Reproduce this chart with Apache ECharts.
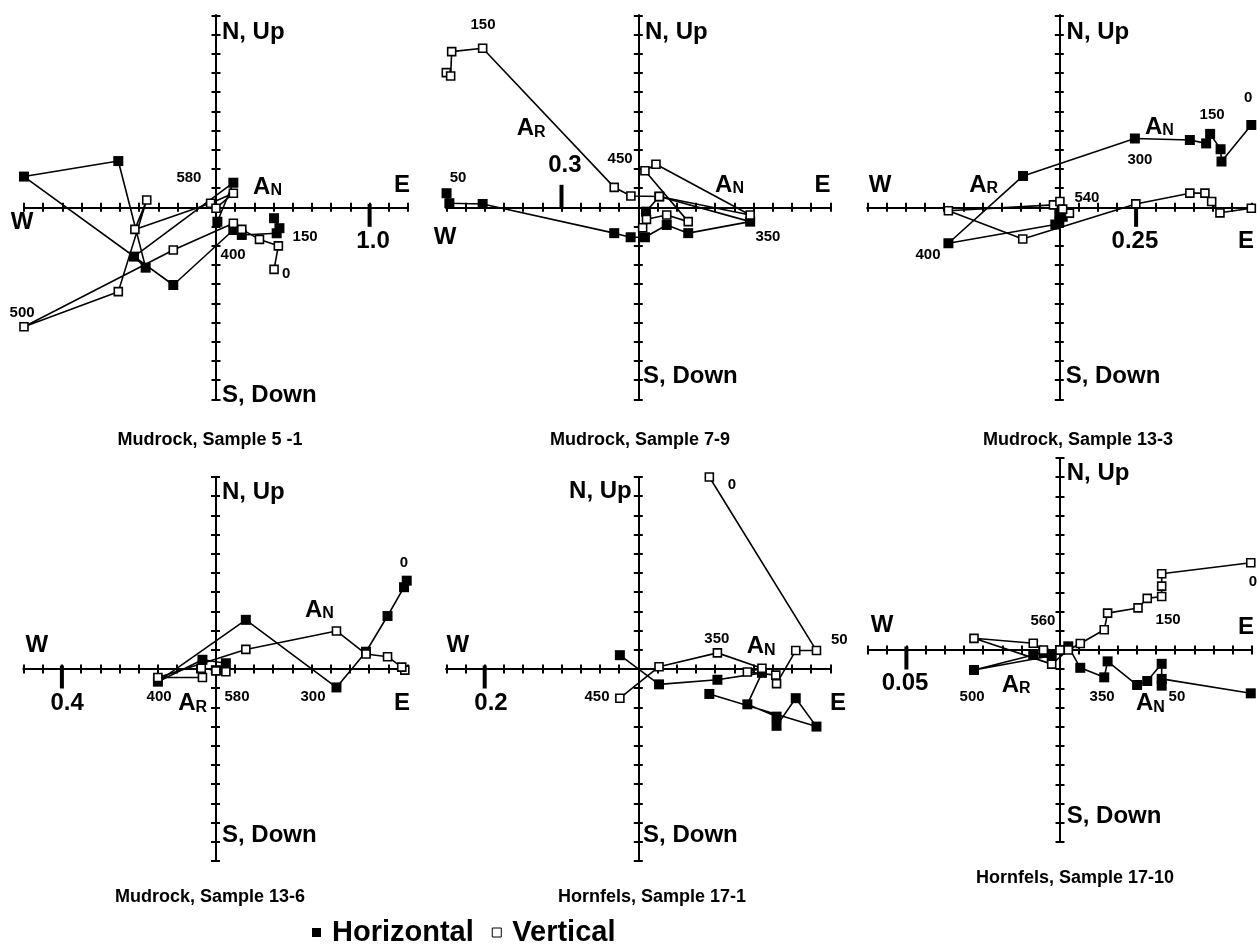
<!DOCTYPE html>
<html>
<head>
<meta charset="utf-8">
<script src="https://cdn.jsdelivr.net/npm/echarts@6/dist/echarts.min.js"></script>
<style>
  html, body { margin: 0; padding: 0; background: #fff; }
  #chart { width: 1257px; height: 947px; }
</style>
</head>
<body>
<div id="chart"></div>
<script>
// Orthogonal demagnetization (Zijderveld) plots.
// Each point is [East, North] for the horizontal projection and [East, Up] for the vertical one.

// Mudrock, sample 5-1
const m51Horizontal = [[0.378,-0.071],[0.413,-0.136],[0.395,-0.169],[0.168,-0.180],[0.113,-0.148],[-0.278,-0.506],[-1.25,0.200],[-0.636,0.301],[-0.458,-0.393],[-0.534,-0.321],[0.113,0.160],[0.009,-0.094]];
const m51Vertical = [[0.378,-0.404],[0.406,-0.251],[0.283,-0.209],[0.168,-0.144],[0.113,-0.104],[-0.278,-0.278],[-1.25,-0.778],[-0.636,-0.549],[-0.451,0.048],[-0.528,-0.144],[-0.035,0.026],[0.113,0.091],[0.0,-0.006]];

// Mudrock, sample 7-9
const m79Horizontal = [[-0.749,0.055],[-0.738,0.016],[-0.608,0.013],[-0.094,-0.101],[-0.030,-0.117],[0.026,-0.117],[0.111,-0.069],[0.195,-0.101],[0.437,-0.056],[0.082,0.042],[0.030,-0.017]];
const m79Vertical = [[-0.75,0.526],[-0.733,0.513],[-0.729,0.608],[-0.608,0.621],[-0.094,0.078],[-0.029,0.044],[0.082,0.042],[0.437,-0.030],[0.069,0.168],[0.026,0.143],[0.195,-0.056],[0.111,-0.030],[0.032,-0.047],[0.017,-0.080]];

// Mudrock, sample 13-3
const m133Horizontal = [[0.625,0.268],[0.528,0.149],[0.525,0.189],[0.491,0.239],[0.478,0.208],[0.425,0.219],[0.246,0.224],[-0.118,0.102],[-0.361,-0.117],[-0.013,-0.056],[0.0,-0.047],[0.011,-0.031],[0.0,-0.019]];
const m133Vertical = [[0.625,-0.003],[0.523,-0.018],[0.496,0.019],[0.474,0.046],[0.425,0.046],[0.249,0.011],[-0.119,-0.103],[-0.361,-0.011],[-0.019,0.008],[0.002,0.019],[0.033,-0.019],[0.011,-0.006]];

// Mudrock, sample 13-6
const m136Horizontal = [[0.498,0.230],[0.491,0.213],[0.448,0.138],[0.392,0.045],[0.315,-0.048],[0.079,0.128],[-0.150,-0.033],[-0.034,0.024],[0.027,0.015],[0.001,-0.003]];
const m136Vertical = [[0.493,-0.003],[0.485,0.005],[0.448,0.032],[0.392,0.039],[0.315,0.099],[0.079,0.051],[-0.150,-0.022],[-0.034,-0.022],[-0.037,0.002],[0.027,-0.007],[0.001,-0.005]];

// Hornfels, sample 17-1
const h171Horizontal = [[0.0925,-0.0325],[0.232,-0.075],[0.205,-0.038],[0.180,-0.074],[0.180,-0.062],[0.142,-0.046],[0.161,-0.005],[0.103,-0.014],[0.027,-0.020],[-0.024,0.018]];
const h171Vertical = [[0.0925,0.25],[0.232,0.024],[0.205,0.024],[0.180,-0.019],[0.179,-0.008],[0.142,-0.004],[0.161,0.001],[0.103,0.021],[0.027,0.003],[-0.024,-0.038]];

// Hornfels, sample 17-10
const h1710Horizontal = [[0.0621,-0.0141],[0.0331,-0.0094],[0.0331,-0.0116],[0.0331,-0.0045],[0.0284,-0.0101],[0.0251,-0.0114],[0.0155,-0.0037],[0.0144,-0.0089],[0.0066,-0.0058],[0.0027,0.0012],[-0.0027,-0.0019],[-0.0280,-0.0065],[-0.0087,-0.0016],[-0.0054,-0.0009],[0,0]];
const h1710Vertical = [[0.0621,0.0284],[0.0331,0.0248],[0.0331,0.0208],[0.0331,0.0174],[0.0284,0.0168],[0.0254,0.0137],[0.0155,0.0120],[0.0144,0.0066],[0.0066,0.0021],[0.0027,0.0],[-0.0027,-0.0046],[-0.0280,0.0038],[-0.0087,0.0022],[-0.0054,0.0],[0,0]];

// Axis tick step of each plot and the value marked by its scale bar
const tickSteps = [0.125, 0.075, 0.0625, 0.05, 0.025, 0.00625];
const scaleBarValues = [1.0, -0.3, 0.25, -0.4, -0.2, -0.05];
const scaleBarLabels = ['1.0', '0.3', '0.25', '0.4', '0.2', '0.05'];
const sampleTitles = ['Mudrock, Sample 5 -1', 'Mudrock, Sample 7-9', 'Mudrock, Sample 13-3',
                      'Mudrock, Sample 13-6', 'Hornfels, Sample 17-1', 'Hornfels, Sample 17-10'];
const legendNames = ['Horizontal', 'Vertical'];

const FONT = '"Liberation Sans", Arial, Helvetica, sans-serif';
const TICK_PX = 19.2;      // pixel length of one axis step
const HALF_TICKS = 10;     // steps on each side of the origin

// Layout of each plot: origin in pixels, title anchor, bar offset and annotations.
// Annotation positions are given in axis steps from the origin.
const layout = [
  { ox: 216, oy: 207.3, barShift: 8, titleX: 210, titleY: 440,
    notes: [
      ['N, Up', 0.31, 9.13, 'left', 'axis'], ['S, Down', 0.31, -9.78, 'left', 'axis'],
      ['W', -10.1, -0.77, 'center', 'axis'], ['E', 9.69, 1.16, 'center', 'axis'],
      ['1.0', 8.18, -1.8, 'center', 'scale'],
      ['580', -1.41, 1.53, 'center', 'temp'], ['N', 1.93, 1.06, 'left', 'comp'],
      ['150', 4.64, -1.55, 'center', 'temp'], ['400', 0.89, -2.48, 'center', 'temp'],
      ['0', 3.65, -3.47, 'center', 'temp'], ['500', -10.1, -5.5, 'center', 'temp']
    ] },
  { ox: 638.3, oy: 207.3, barShift: -11, titleX: 640, titleY: 440,
    notes: [
      ['N, Up', 0.35, 9.13, 'left', 'axis'], ['S, Down', 0.25, -8.82, 'left', 'axis'],
      ['W', -10.07, -1.55, 'center', 'axis'], ['E', 9.6, 1.16, 'center', 'axis'],
      ['0.3', -3.82, 2.2, 'center', 'scale'],
      ['150', -8.09, 9.5, 'center', 'temp'], ['R', -6.33, 4.11, 'left', 'comp'],
      ['450', -0.95, 2.52, 'center', 'temp'], ['N', 4.0, 1.16, 'left', 'comp'],
      ['50', -9.39, 1.53, 'center', 'temp'], ['350', 6.75, -1.55, 'center', 'temp']
    ] },
  { ox: 1059.3, oy: 207.3, barShift: 8, titleX: 1078, titleY: 440,
    notes: [
      ['N, Up', 0.38, 9.13, 'left', 'axis'], ['S, Down', 0.33, -8.82, 'left', 'axis'],
      ['W', -9.34, 1.16, 'center', 'axis'], ['E', 9.72, -1.8, 'center', 'axis'],
      ['0.25', 3.94, -1.8, 'center', 'scale'],
      ['R', -4.69, 1.16, 'left', 'comp'], ['540', 1.44, 0.48, 'center', 'temp'],
      ['400', -6.84, -2.48, 'center', 'temp'], ['300', 4.2, 2.46, 'center', 'temp'],
      ['N', 4.46, 4.18, 'left', 'comp'], ['150', 7.96, 4.83, 'center', 'temp'],
      ['0', 9.84, 5.69, 'center', 'temp']
    ] },
  { ox: 215.5, oy: 669, barShift: 8, titleX: 210, titleY: 897,
    notes: [
      ['N, Up', 0.34, 9.18, 'left', 'axis'], ['S, Down', 0.34, -8.65, 'left', 'axis'],
      ['W', -9.3, 1.25, 'center', 'axis'], ['E', 9.71, -1.77, 'center', 'axis'],
      ['0.4', -7.73, -1.77, 'center', 'scale'],
      ['400', -2.94, -1.46, 'center', 'temp'], ['R', -1.94, -1.79, 'left', 'comp'],
      ['580', 1.12, -1.46, 'center', 'temp'], ['300', 5.08, -1.46, 'center', 'temp'],
      ['N', 4.66, 3.07, 'left', 'comp'], ['0', 9.82, 5.52, 'center', 'temp']
    ] },
  { ox: 638.3, oy: 669, barShift: 8, titleX: 652, titleY: 897,
    notes: [
      ['N, Up', -0.34, 9.23, 'right', 'axis'], ['S, Down', 0.25, -8.65, 'left', 'axis'],
      ['W', -9.4, 1.25, 'center', 'axis'], ['E', 10.4, -1.77, 'center', 'axis'],
      ['0.2', -7.67, -1.77, 'center', 'scale'],
      ['0', 4.88, 9.58, 'center', 'temp'], ['350', 4.09, 1.56, 'center', 'temp'],
      ['N', 5.65, 1.16, 'left', 'comp'], ['50', 10.03, 1.51, 'left', 'temp'],
      ['450', -2.15, -1.46, 'center', 'temp']
    ] },
  { ox: 1060, oy: 650, barShift: 8, titleX: 1075, titleY: 878,
    notes: [
      ['N, Up', 0.35, 9.2, 'left', 'axis'], ['S, Down', 0.35, -8.65, 'left', 'axis'],
      ['W', -9.27, 1.3, 'center', 'axis'], ['E', 9.69, 1.2, 'center', 'axis'],
      ['0.05', -8.07, -1.72, 'center', 'scale'],
      ['560', -0.89, 1.51, 'center', 'temp'], ['150', 5.63, 1.56, 'center', 'temp'],
      ['500', -4.58, -2.45, 'center', 'temp'], ['R', -3.04, -1.82, 'left', 'comp'],
      ['350', 2.19, -2.45, 'center', 'temp'], ['N', 3.96, -2.78, 'left', 'comp'],
      ['50', 6.09, -2.45, 'center', 'temp'], ['0', 10.05, 3.54, 'center', 'temp']
    ] }
];

const horizontalSets = [m51Horizontal, m79Horizontal, m133Horizontal, m136Horizontal, h171Horizontal, h1710Horizontal];
const verticalSets = [m51Vertical, m79Vertical, m133Vertical, m136Vertical, h171Vertical, h1710Vertical];

const noteStyles = {
  axis:  { fontSize: 24 },
  scale: { fontSize: 24 },
  temp:  { fontSize: 15 }
};

function axisPair(kind, gridIndex, step) {
  const base = {
    gridIndex, type: 'value',
    min: -HALF_TICKS * step, max: HALF_TICKS * step, interval: step,
    axisLine: { show: true, onZero: true, lineStyle: { color: '#000', width: 2 } },
    axisTick: { show: true, inside: false, length: 4.5, lineStyle: { color: '#000', width: 2 } },
    axisLabel: { show: false }, splitLine: { show: false }, splitArea: { show: false }
  };
  return kind === 'x'
    ? [Object.assign({ position: 'bottom' }, base), Object.assign({ position: 'top' }, base)]
    : [Object.assign({ position: 'left' }, base), Object.assign({ position: 'right' }, base)];
}

const grids = [], xAxes = [], yAxes = [], series = [], graphics = [];

layout.forEach((p, i) => {
  const step = tickSteps[i];
  grids.push({
    left: p.ox - HALF_TICKS * TICK_PX, top: p.oy - HALF_TICKS * TICK_PX,
    width: 2 * HALF_TICKS * TICK_PX, height: 2 * HALF_TICKS * TICK_PX,
    containLabel: false, outerBoundsMode: 'none'
  });
  xAxes.push(...axisPair('x', i, step));
  yAxes.push(...axisPair('y', i, step));
  const xi = 2 * i, yi = 2 * i;

  // scale bar on the East-West axis
  series.push({
    type: 'scatter', xAxisIndex: xi, yAxisIndex: yi, silent: true, clip: false, z: 3,
    symbol: 'rect', symbolSize: [4, 23], symbolOffset: [0, p.barShift],
    itemStyle: { color: '#000', opacity: 1 },
    data: [[scaleBarValues[i], 0]]
  });

  series.push({
    name: legendNames[0], type: 'line', xAxisIndex: xi, yAxisIndex: yi, clip: false, z: 4,
    symbol: 'rect', symbolSize: 10, showAllSymbol: true,
    lineStyle: { color: '#000', width: 1.6 },
    itemStyle: { color: '#000', borderColor: '#000', borderWidth: 0 },
    data: horizontalSets[i]
  });
  series.push({
    name: legendNames[1], type: 'line', xAxisIndex: xi, yAxisIndex: yi, clip: false, z: 5,
    symbol: 'rect', symbolSize: 8, showAllSymbol: true,
    lineStyle: { color: '#000', width: 1.6 },
    itemStyle: { color: '#fff', borderColor: '#000', borderWidth: 1.6 },
    data: verticalSets[i]
  });

  // labels placed in axis steps from the origin
  series.push({
    type: 'scatter', xAxisIndex: xi, yAxisIndex: yi, silent: true, clip: false, z: 6,
    symbolSize: 0, itemStyle: { opacity: 1 },
    data: p.notes.map(([text, tx, ty, align, kind]) => {
      const label = {
        show: true, position: [0, 0], align, verticalAlign: 'middle',
        color: '#000', opacity: 1, fontFamily: FONT, fontWeight: 'bold'
      };
      if (kind === 'comp') {
        label.formatter = '{a|A}{s|' + text + '}';
        label.rich = {
          a: { fontSize: 24, fontWeight: 'bold', fontFamily: FONT, color: '#000', verticalAlign: 'bottom' },
          s: { fontSize: 16, fontWeight: 'bold', fontFamily: FONT, color: '#000', verticalAlign: 'bottom' }
        };
      } else {
        label.formatter = text;
        label.fontSize = noteStyles[kind].fontSize;
      }
      return { value: [tx * step, ty * step], label };
    })
  });

  graphics.push({
    type: 'text', x: p.titleX, y: p.titleY, silent: true,
    style: {
      text: sampleTitles[i], fill: '#000',
      fontSize: 18, fontWeight: 'bold', fontFamily: FONT,
      align: 'center', verticalAlign: 'middle', textAlign: 'center', textVerticalAlign: 'middle'
    }
  });
});

const chart = echarts.init(document.getElementById('chart'), null, { renderer: 'canvas' });
chart.setOption({
  animation: false,
  backgroundColor: '#fff',
  grid: grids,
  xAxis: xAxes,
  yAxis: yAxes,
  legend: {
    left: 312, top: 918, padding: 0, itemGap: 18,
    itemWidth: 9, itemHeight: 9, selectedMode: false,
    textStyle: { fontSize: 29, fontWeight: 'bold', fontFamily: FONT, color: '#000', padding: [0, 0, 0, 6] },
    data: [
      { name: legendNames[0], icon: 'rect', itemStyle: { color: '#000', borderWidth: 0 } },
      { name: legendNames[1], icon: 'rect', itemStyle: { color: '#fff', borderColor: '#000', borderWidth: 1 } }
    ]
  },
  graphic: graphics,
  series
});
</script>
</body>
</html>
